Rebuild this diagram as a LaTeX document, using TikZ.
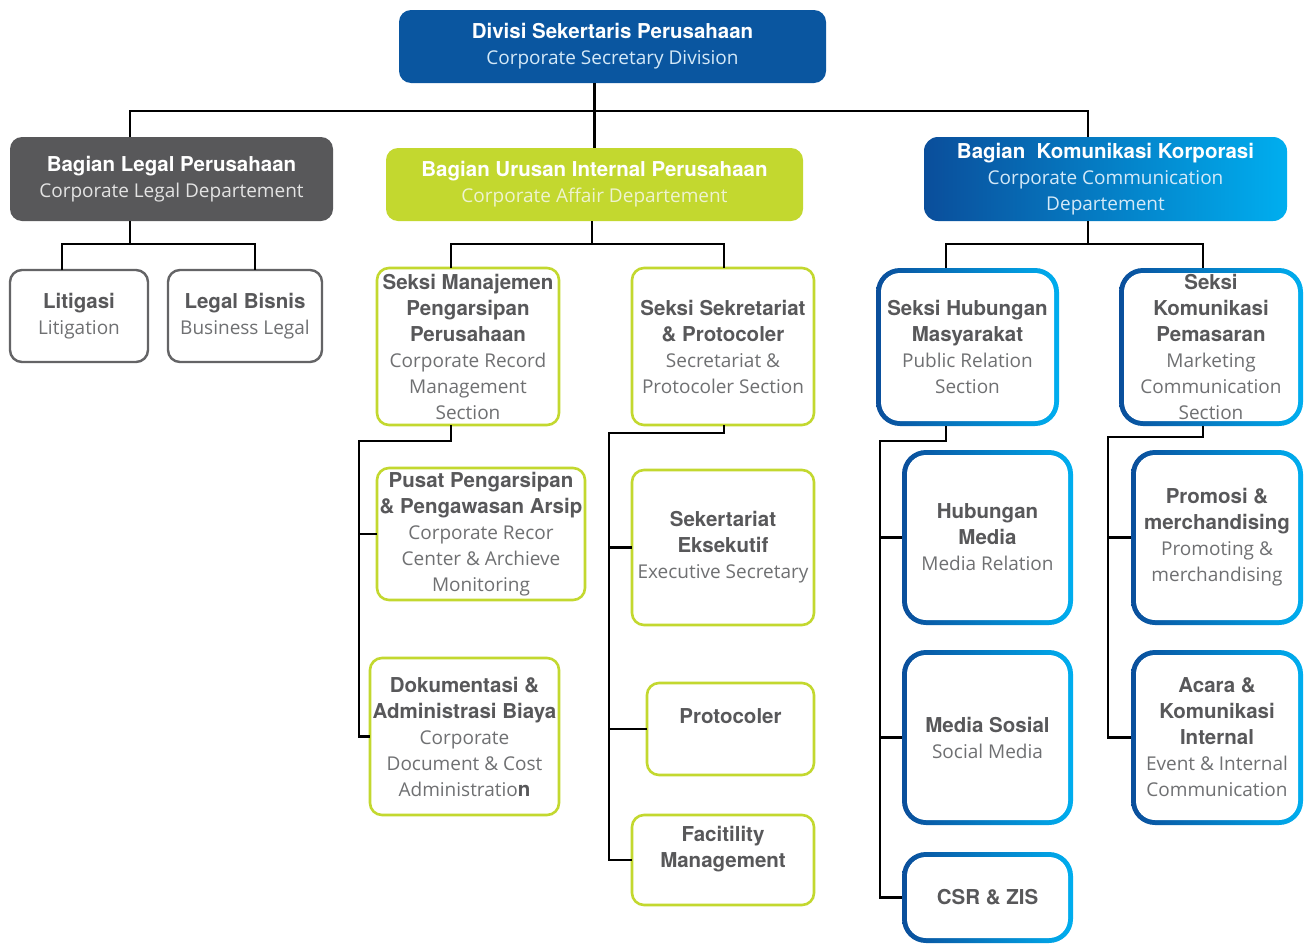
\documentclass[tikz,border=0pt]{standalone}
\usepackage{fontspec}
\setmainfont{Open Sans}
\newfontfamily\tfont{TeX Gyre Heros}
\usetikzlibrary{calc}
\definecolor{topblue}{HTML}{0A56A0}
\definecolor{deptgray}{HTML}{58585A}
\definecolor{lime}{HTML}{C3D82F}
\definecolor{bdark}{HTML}{0A4E9B}
\definecolor{blight}{HTML}{00AEEF}
\definecolor{bordergray}{HTML}{646466}
\definecolor{tgray}{HTML}{58585A}
\definecolor{sgray}{HTML}{6F7072}
\definecolor{subgray}{HTML}{E3E3E3}
\definecolor{sublime}{HTML}{EEF3CF}
\definecolor{subblue}{HTML}{D4E9F8}
\newcommand\btitle[2][tgray]{{\tfont\bfseries\fontsize{20.5}{26}\selectfont\color{#1}#2}}
\newcommand\bsub[2][sgray]{{\fontsize{19}{26}\selectfont\color{#1}#2}}
\tikzset{
  conn/.style={line width=2.8pt, black},
  base/.style={align=center, inner sep=0pt, outer sep=0pt, font=\fontsize{19}{26}\selectfont},
  sz/.style 2 args={minimum width=#1pt, minimum height=#2pt},
  gbox/.style={base, draw=bordergray, line width=2.4pt, rounded corners=12pt, fill=white},
  lbox/.style={base, draw=lime, line width=2.6pt, rounded corners=12pt, fill=white},
  bbox/.style={base, left color=bdark, right color=blight, rounded corners=24pt,
    path picture={\fill[white, rounded corners=19pt]
      ($(path picture bounding box.south west)+(5pt,5pt)$) rectangle
      ($(path picture bounding box.north east)+(-5pt,-5pt)$);}},
}
\begin{document}
\begin{tikzpicture}[x=1pt, y=-1pt]
\useasboundingbox (0,0) rectangle (1311,945);
\fill[white] (0,0) rectangle (1311,945);
% top and departments
\node[base, fill=topblue, rounded corners=12pt, sz={427}{73}] (top) at (612.5,46.5)
  {\btitle[white]{Divisi Sekertaris Perusahaan}\\\bsub[subblue]{Corporate Secretary Division}};
\node[base, fill=deptgray, rounded corners=12pt, sz={323}{84}] (legal) at (171.5,179)
  {\btitle[white]{Bagian Legal Perusahaan}\\\bsub[subgray]{Corporate Legal Departement}};
\node[base, fill=lime, rounded corners=12pt, sz={417}{73}] (aff) at (594.5,184.5)
  {\btitle[white]{Bagian Urusan Internal Perusahaan}\\\bsub[sublime]{Corporate Affair Departement}};
\node[base, left color=bdark, right color=blight, rounded corners=14pt, sz={363}{84}] (kom) at (1105.5,179)
  {\btitle[white]{Bagian\ \ Komunikasi Korporasi}\\\bsub[subblue]{Corporate Communication}\\\bsub[subblue]{Departement}};
% legal sections
\node[gbox, sz={138}{92}] (lit) at (79,316) {\btitle{Litigasi}\\\bsub{Litigation}};
\node[gbox, sz={154}{92}] (lb) at (245,316) {\btitle{Legal Bisnis}\\\bsub{Business Legal}};
% affair sections
\node[lbox, sz={182}{157}] (sm) at (468,346.5)
  {\btitle{Seksi Manajemen}\\\btitle{Pengarsipan}\\\btitle{Perusahaan}\\\bsub{Corporate Record}\\\bsub{Management}\\\bsub{Section}};
\node[lbox, sz={182}{157}] (ss) at (723,346.5)
  {\btitle{Seksi Sekretariat}\\\btitle{\& Protocoler}\\\bsub{Secretariat \&}\\\bsub{Protocoler Section}};
\node[lbox, sz={208}{132}] (pusat) at (481,534)
  {\btitle{Pusat Pengarsipan}\\\btitle{\& Pengawasan Arsip}\\\bsub{Corporate Recor}\\\bsub{Center \& Archieve}\\\bsub{Monitoring}};
\node[lbox, sz={189}{157}] (dok) at (464.5,736.5)
  {\btitle{Dokumentasi \&}\\\btitle{Administrasi Biaya}\\\bsub{Corporate}\\\bsub{Document \& Cost}\\\bsub{Administratio}\btitle{n}};
\node[lbox, sz={182}{155}] (se) at (723,547.5)
  {\btitle{Sekertariat}\\\btitle{Eksekutif}\\\bsub{Executive Secretary}};
\node[lbox, sz={167}{92}] (prot) at (730.5,729)
  {\btitle{Protocoler}\\\mbox{}};
\node[lbox, sz={182}{90}] (fac) at (723,860)
  {\btitle{Facitility}\\\btitle{Management}\\\mbox{}};
% communication sections
\node[bbox, sz={183}{158}] (shm) at (967.5,347)
  {\btitle{Seksi Hubungan}\\\btitle{Masyarakat}\\\bsub{Public Relation}\\\bsub{Section}};
\node[bbox, sz={184}{158}] (skp) at (1211,347)
  {\btitle{Seksi}\\\btitle{Komunikasi}\\\btitle{Pemasaran}\\\bsub{Marketing}\\\bsub{Communication}\\\bsub{Section}};
\node[bbox, sz={171}{175}] (hm) at (987.5,537.5)
  {\btitle{Hubungan}\\\btitle{Media}\\\bsub{Media Relation}};
\node[bbox, sz={171}{175}] (ms) at (987.5,737.5)
  {\btitle{Media Sosial}\\\bsub{Social Media}};
\node[bbox, sz={171}{91}] (csr) at (987.5,897.5)
  {\btitle{CSR \& ZIS}};
\node[bbox, sz={172}{175}] (promo) at (1217,537.5)
  {\btitle{Promosi \&}\\\btitle{merchandising}\\\bsub{Promoting \&}\\\bsub{merchandising}};
\node[bbox, sz={172}{175}] (acara) at (1217,737.5)
  {\btitle{Acara \&}\\\btitle{Komunikasi}\\\btitle{Internal}\\\bsub{Event \& Internal}\\\bsub{Communication}};
% connectors: top level
\coordinate (j1) at ($(aff.north |- top.south)+(0,28)$);
\draw[conn] (aff.north |- top.south) -- (aff.north);
\draw[conn] ($(legal.north)+(-41.5,0)$) |- (j1) -| ($(kom.north)+(-17.5,0)$);
% legal
\coordinate (l1) at ($(legal.south)+(-41.5,23)$);
\draw[conn] ($(legal.south)+(-41.5,0)$) -- (l1);
\draw[conn] ($(lit.north)+(-17,0)$) |- (l1) -| ($(lb.north)+(10,0)$);
% affair
\coordinate (a1) at ($(aff.south)+(-2.5,23)$);
\draw[conn] ($(aff.south)+(-2.5,0)$) -- (a1);
\draw[conn] ($(sm.north)+(-17,0)$) |- (a1) -| ($(ss.north)+(1,0)$);
\coordinate (s1) at ($(sm.south)+(-17,16)$);
\coordinate (s2) at ($(s1)+(-92,0)$);
\draw[conn] ($(sm.south)+(-17,0)$) -- (s1) -- (s2) -- (s2 |- dok.west) -- (dok.west);
\draw[conn] (s2 |- pusat.west) -- (pusat.west);
\coordinate (t1) at ($(ss.south)+(1,8)$);
\coordinate (t2) at ($(t1)+(-115,0)$);
\draw[conn] ($(ss.south)+(1,0)$) -- (t1) -- (t2) -- (t2 |- fac.west) -- (fac.west);
\draw[conn] (t2 |- se.west) -- (se.west);
\draw[conn] (t2 |- prot.west) -- (prot.west);
% communication
\coordinate (k1) at ($(kom.south)+(-17.5,23)$);
\draw[conn] ($(kom.south)+(-17.5,0)$) -- (k1);
\draw[conn] ($(shm.north)+(-21.5,0)$) |- (k1) -| ($(skp.north)+(-8,0)$);
\coordinate (h1) at ($(shm.south)+(-21.5,15)$);
\coordinate (h2) at ($(h1)+(-66,0)$);
\draw[conn] ($(shm.south)+(-21.5,0)$) -- (h1) -- (h2) -- (h2 |- csr.west) -- (csr.west);
\draw[conn] (h2 |- hm.west) -- (hm.west);
\draw[conn] (h2 |- ms.west) -- (ms.west);
\coordinate (p1) at ($(skp.south)+(-8,11)$);
\coordinate (p2) at ($(p1)+(-95,0)$);
\draw[conn] ($(skp.south)+(-8,0)$) -- (p1) -- (p2) -- (p2 |- acara.west) -- (acara.west);
\draw[conn] (p2 |- promo.west) -- (promo.west);
\end{tikzpicture}
\end{document}
